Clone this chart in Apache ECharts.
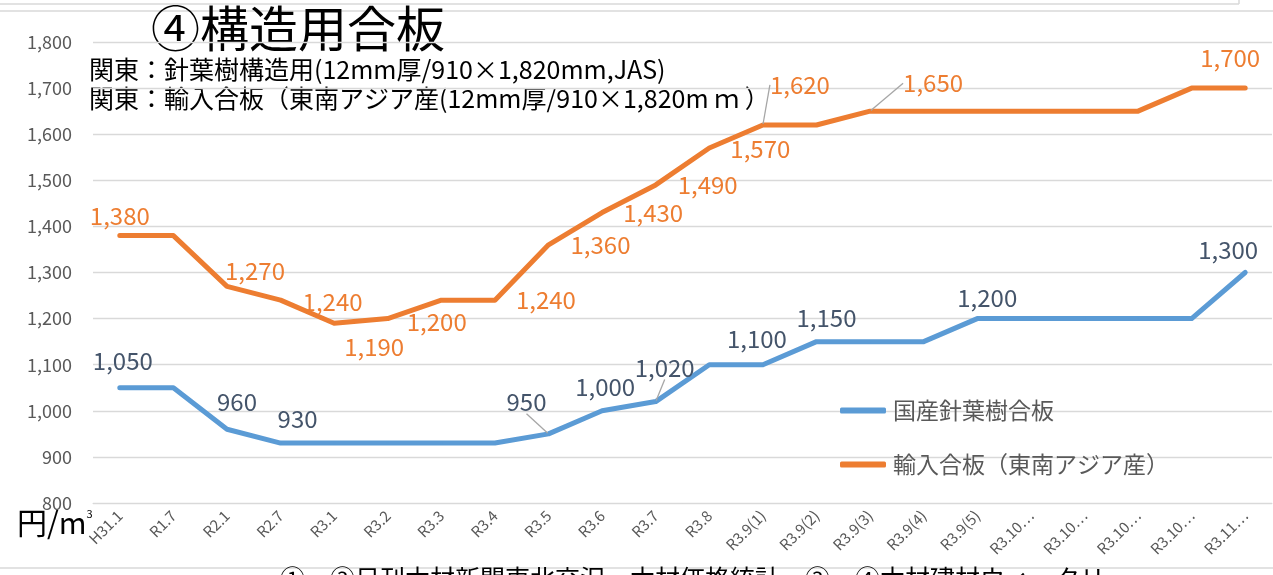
<!DOCTYPE html>
<html>
<head>
<meta charset="utf-8">
<script src="https://cdn.jsdelivr.net/npm/echarts@6/dist/echarts.min.js"></script>
</head>
<body style="margin:0;background:#fff">
<div id="main" style="width:1273px;height:575px;"></div>
<script type="text/javascript">
    // 月ごとの価格（円/㎥）
    var months = ['H31.1', 'R1.7', 'R2.1', 'R2.7', 'R3.1', 'R3.2', 'R3.3', 'R3.4', 'R3.5', 'R3.6', 'R3.7', 'R3.8',
        'R3.9(1)', 'R3.9(2)', 'R3.9(3)', 'R3.9(4)', 'R3.9(5)', 'R3.10…', 'R3.10…', 'R3.10…', 'R3.10…', 'R3.11…'];
    var domestic = [1050, 1050, 960, 930, 930, 930, 930, 930, 950, 1000, 1020, 1100,
        1100, 1150, 1150, 1150, 1200, 1200, 1200, 1200, 1200, 1300];
    var imported = [1380, 1380, 1270, 1240, 1190, 1200, 1240, 1240, 1360, 1430, 1490, 1570,
        1620, 1620, 1650, 1650, 1650, 1650, 1650, 1650, 1700, 1700];
    var seriesNames = ['国産針葉樹合板', '輸入合板（東南アジア産）'];
    var yTicks = {min: 800, max: 1800, step: 100};

    // ラベルの位置（点からのずれ）、3番目=1 は引き出し線あり
    var blueLabelAt = {
        0: [3, -27], 2: [10, -27], 3: [17, -24], 8: [-22, -32, 1], 9: [3, -24],
        10: [9, -34, 1], 12: [-6, -26], 13: [10, -24], 16: [10, -21], 21: [-17, -23]
    };
    var orangeLabelAt = {
        0: [0, -20], 2: [28, -15], 3: [52, 2], 4: [40, 24], 5: [49, 3], 7: [51, 0],
        8: [52, 0], 9: [51, 0], 10: [52, 0], 11: [51, 1], 12: [37, -40, 1], 14: [63, -28, 1], 21: [-15, -30]
    };

    var FONT = 'Noto Sans CJK JP';
    var myChart = echarts.init(document.getElementById('main'));

    function fmt(v) {
        return echarts.format.addCommas(v);
    }

    function buildData(values, at) {
        return values.map(function (v, i) {
            var p = at[i];
            var item = {value: v};
            if (p) {
                item.label = {show: true};
                if (p[2]) item.labelLine = {show: true};
            }
            return item;
        });
    }

    function makeSeries(name, values, at, lineColor, labelColor) {
        return {
            name: name,
            type: 'line',
            data: buildData(values, at),
            symbol: 'circle',
            symbolSize: 2,
            showSymbol: true,
            itemStyle: {color: lineColor},
            lineStyle: {width: 5, color: lineColor, cap: 'round', join: 'round'},
            label: {
                show: false,
                position: 'inside',
                color: labelColor,
                fontFamily: FONT,
                fontSize: 24,
                formatter: function (p) { return fmt(p.value); }
            },
            labelLine: {show: false, lineStyle: {color: '#a6a6a6', width: 1.3}},
            labelLayout: function (params) {
                var p = at[params.dataIndex];
                if (!p) return {};
                return {dx: p[0], dy: p[1]};
            },
            emphasis: {disabled: true},
            animation: false
        };
    }

    var option = {
        backgroundColor: '#ffffff',
        textStyle: {fontFamily: FONT},
        grid: {left: 93, right: 1, top: 42, bottom: 72, containLabel: false},
        legend: {
            orient: 'vertical',
            left: 835,
            top: 394,
            itemGap: 31,
            itemWidth: 46,
            itemHeight: 6,
            icon: 'roundRect',
            textStyle: {color: '#595959', fontSize: 23, fontFamily: FONT, padding: [0, 0, 0, 2]},
            data: seriesNames
        },
        xAxis: {
            type: 'category',
            data: months,
            boundaryGap: true,
            axisLine: {lineStyle: {color: '#d9d9d9'}},
            axisTick: {show: false},
            axisLabel: {
                interval: 0,
                rotate: 45,
                color: '#595959',
                fontSize: 15,
                margin: 10,
                fontFamily: FONT
            }
        },
        yAxis: {
            type: 'value',
            min: yTicks.min,
            max: yTicks.max,
            interval: yTicks.step,
            axisLine: {show: false},
            axisTick: {show: false},
            splitLine: {lineStyle: {color: '#d9d9d9', width: 1.3}},
            axisLabel: {
                color: '#595959',
                fontSize: 18,
                margin: 21,
                fontFamily: FONT,
                formatter: function (v) { return fmt(v); }
            }
        },
        graphic: [
            {type: 'line', shape: {x1: 0, y1: 4, x2: 1239, y2: 4}, style: {stroke: '#d9d9d9', lineWidth: 1.5}},
            {type: 'line', shape: {x1: 1239, y1: 0, x2: 1239, y2: 4}, style: {stroke: '#d9d9d9', lineWidth: 1.5}},
            {type: 'line', shape: {x1: 0, y1: 11, x2: 1273, y2: 11}, style: {stroke: '#d9d9d9', lineWidth: 1.5}},
            {type: 'line', shape: {x1: 0, y1: 568, x2: 1273, y2: 568}, style: {stroke: '#d9d9d9', lineWidth: 1.5}},
            {type: 'text', left: 151, top: 4, style: {text: '④構造用合板', fontSize: 49, fontFamily: FONT, fill: '#000'}},
            {type: 'text', left: 89, top: 57, style: {text: '関東：針葉樹構造用(12mm厚/910×1,820mm,JAS)', fontSize: 25, fontFamily: FONT, fill: '#000'}},
            {type: 'text', left: 89, top: 86, style: {text: '関東：輸入合板（東南アジア産(12mm厚/910×1,820m ｍ ）', fontSize: 25, fontFamily: FONT, fill: '#000'}},
            {
                type: 'text', left: 17, top: 508,
                style: {
                    text: '{a|円/m}{s|3}',
                    fontFamily: FONT,
                    fill: '#000',
                    rich: {
                        a: {fontSize: 30, fontFamily: FONT, fill: '#000', verticalAlign: 'bottom'},
                        s: {fontSize: 11, fontFamily: FONT, fill: '#000', verticalAlign: 'top', padding: [0, 0, 14, 0]}
                    }
                }
            },
            {type: 'text', left: 280, top: 566, style: {text: '①～③日刊木材新聞東北交況、木材価格統計　③～④木材建材ウィークリー', fontSize: 25, fontFamily: FONT, fill: '#000'}}
        ],
        series: [
            makeSeries(seriesNames[0], domestic, blueLabelAt, '#5b9bd5', '#44546a'),
            makeSeries(seriesNames[1], imported, orangeLabelAt, '#ed7d31', '#ed7d31')
        ]
    };
    myChart.setOption(option);
</script>
</body>
</html>
